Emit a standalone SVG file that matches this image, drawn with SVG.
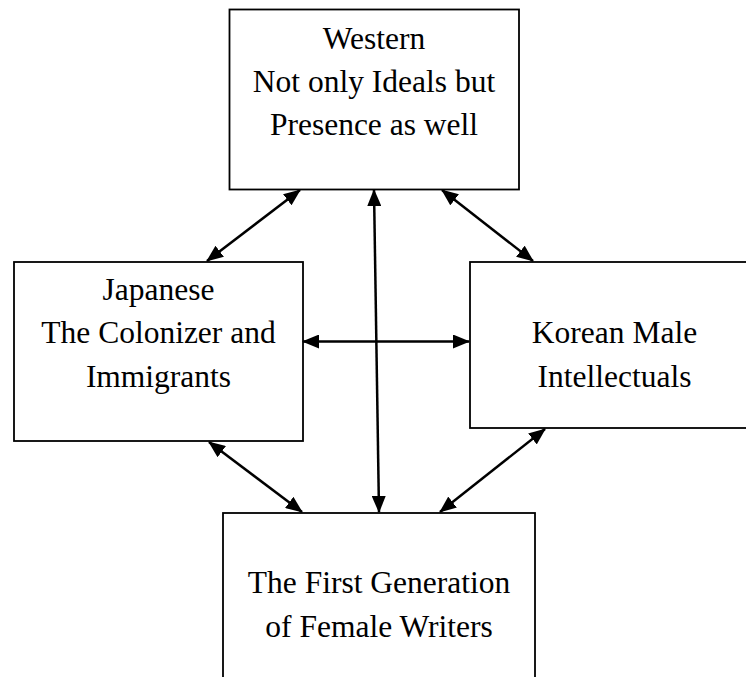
<svg xmlns="http://www.w3.org/2000/svg" width="746" height="677" viewBox="0 0 746 677">
  <style>
    .box { fill: #fff; stroke: #000; stroke-width: 1.8; }
    .lbl { font-family: "Liberation Serif", "Times New Roman", serif; font-size: 31.5px; fill: #000; text-anchor: middle; }
  </style>
  <defs>
    <!-- filled triangular arrowhead, size given in user units -->
    <marker id="head" markerUnits="userSpaceOnUse" viewBox="0 0 17 14" markerWidth="17" markerHeight="14" refX="16" refY="7" orient="auto-start-reverse">
      <path d="M0,0 L17,7 L0,14 z" fill="#000"/>
    </marker>
  </defs>
  <rect width="746" height="677" fill="#fff"/>

  <g id="western">
    <rect class="box" x="229.5" y="9.5" width="289.5" height="180"/>
    <text class="lbl" x="374" y="49">Western</text>
    <text class="lbl" x="374" y="92">Not only Ideals but</text>
    <text class="lbl" x="374" y="135">Presence as well</text>
  </g>

  <g id="japanese">
    <rect class="box" x="14" y="262" width="289" height="179"/>
    <text class="lbl" x="158.5" y="300">Japanese</text>
    <text class="lbl" x="158.5" y="343">The Colonizer and</text>
    <text class="lbl" x="158.5" y="387">Immigrants</text>
  </g>

  <g id="korean">
    <rect class="box" x="470" y="262" width="290" height="166"/>
    <text class="lbl" x="614.5" y="343">Korean Male</text>
    <text class="lbl" x="614.5" y="387">Intellectuals</text>
  </g>

  <g id="female-writers">
    <rect class="box" x="223" y="513" width="312" height="180"/>
    <text class="lbl" x="379" y="593">The First Generation</text>
    <text class="lbl" x="379" y="637">of Female Writers</text>
  </g>

  <g id="connectors" stroke="#000" stroke-width="2.5" fill="none">
    <line x1="300" y1="190" x2="207" y2="261" marker-start="url(#head)" marker-end="url(#head)"/>
    <line x1="442" y1="190" x2="533" y2="261" marker-start="url(#head)" marker-end="url(#head)"/>
    <line x1="374" y1="190" x2="379" y2="512" marker-start="url(#head)" marker-end="url(#head)"/>
    <line x1="303" y1="341.5" x2="469" y2="341.5" marker-start="url(#head)" marker-end="url(#head)"/>
    <line x1="209" y1="442" x2="302" y2="512" marker-start="url(#head)" marker-end="url(#head)"/>
    <line x1="545" y1="429" x2="440" y2="512" marker-start="url(#head)" marker-end="url(#head)"/>
  </g>
</svg>
